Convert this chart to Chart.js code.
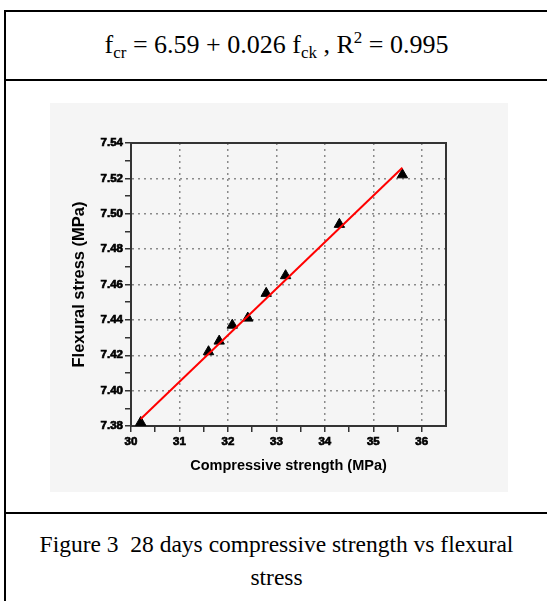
<!DOCTYPE html>
<html><head><meta charset="utf-8">
<script src="https://cdn.jsdelivr.net/npm/chart.js@4.4.0/dist/chart.umd.min.js"></script>
<style>
html,body{margin:0;padding:0;background:#fff;width:547px;height:601px;overflow:hidden;}
body{position:relative;}
.hl{position:absolute;left:4px;width:560px;height:2px;background:#000;}
.vl{position:absolute;left:4px;top:10px;width:2px;height:600px;background:#000;}
.txt{position:absolute;left:6px;width:541px;font-family:"Liberation Serif","Times New Roman",serif;color:#000;text-align:center;white-space:nowrap;}
#eq{top:29px;font-size:26px;line-height:32px;}
#eq .sb{font-size:17px;position:relative;top:5px;}
#eq .sp{font-size:17px;position:relative;top:-10px;}
#cap{top:528px;font-size:23.5px;line-height:33px;}
#wrap{position:absolute;left:50px;top:103px;width:458px;height:389px;background:#f5f5f5;}
</style></head>
<body>
<div class="hl" style="top:10px"></div>
<div class="hl" style="top:79px"></div>
<div class="hl" style="top:512px"></div>
<div class="vl"></div>
<div id="eq" class="txt">f<span class="sb">cr</span> = 6.59 + 0.026 f<span class="sb">ck</span> , R<span class="sp">2</span> = 0.995</div>
<div id="wrap"><canvas id="c" width="458" height="389"></canvas></div>
<div id="cap" class="txt">Figure 3&nbsp; 28 days compressive strength vs flexural<br>stress</div>
<script>
// Data
const compressive = [30.2, 31.6, 31.82, 32.09, 32.41, 32.79, 33.19, 34.3, 35.6];
const flexural    = [7.382, 7.422, 7.428, 7.437, 7.441, 7.455, 7.465, 7.494, 7.522];
const fitX = [30.2, 35.6];
const fitY = [7.384, 7.526];
const xMajorTicks = [30, 31, 32, 33, 34, 35, 36];
const xMinorTicks = [30.5, 31.5, 32.5, 33.5, 34.5, 35.5];
const yMajorTicks = [7.38, 7.40, 7.42, 7.44, 7.46, 7.48, 7.50, 7.52, 7.54];
const yMinorTicks = [7.39, 7.41, 7.43, 7.45, 7.47, 7.49, 7.51, 7.53];
const xTitle = 'Compressive strength (MPa)';
const yTitle = 'Flexural stress (MPa)';

const isIn = (arr, v) => arr.some(a => Math.abs(a - v) < 1e-6);
const buildTicks = (maj, min) => [...maj, ...min].sort((a, b) => a - b).map(v => ({value: v}));

Chart.defaults.font.family = '"Liberation Sans", Arial, sans-serif';
Chart.defaults.font.weight = 'bold';
Chart.defaults.font.size = 12;
Chart.defaults.color = '#000';

const frame = {color: '#333', width: 2};
const gridColor = (maj) => ctx => (ctx.tick && isIn(maj, ctx.tick.value)) ? '#8a8a8a' : 'rgba(0,0,0,0)';
const tickOpts = {font: {size: 11.5, weight: 'bold'}, color: '#000', autoSkip: false,
  textStrokeColor: '#000', textStrokeWidth: 0.7};

new Chart(document.getElementById('c'), {
  type: 'scatter',
  data: {
    datasets: [
      {
        type: 'line',
        data: fitX.map((x, i) => ({x: x, y: fitY[i]})),
        borderColor: '#ff0000', borderWidth: 2, pointRadius: 0, fill: false, order: 0
      },
      {
        data: compressive.map((x, i) => ({x: x, y: flexural[i]})),
        pointStyle: 'triangle', pointRadius: 6, pointHoverRadius: 6,
        backgroundColor: '#000', borderColor: '#000', borderWidth: 1, order: 1
      }
    ]
  },
  options: {
    responsive: false, animation: false, devicePixelRatio: 1,
    layout: {padding: {top: 40, right: 62, bottom: 0, left: 0}},
    plugins: {legend: {display: false}, tooltip: {enabled: false}},
    scales: {
      x: {
        type: 'linear', position: 'bottom', min: 30, max: 36.5,
        afterBuildTicks: s => { s.ticks = buildTicks(xMajorTicks, xMinorTicks); },
        afterFit: s => { s.height = 66; },
        ticks: Object.assign({padding: 3, maxRotation: 0,
          callback: v => isIn(xMajorTicks, v) ? String(Math.round(v)) : ''}, tickOpts),
        grid: {color: gridColor(xMajorTicks), lineWidth: 1.5,
          tickColor: '#333', tickLength: 6, tickWidth: 1.5, tickBorderDash: []},
        border: Object.assign({dash: [2, 4]}, frame),
        title: {display: true, text: xTitle, color: '#000',
          font: {size: 14.5, weight: 'bold'},
          padding: {top: 0, bottom: 17}}
      },
      y: {
        type: 'linear', position: 'left', min: 7.38, max: 7.54,
        afterBuildTicks: s => { s.ticks = buildTicks(yMajorTicks, yMinorTicks); },
        afterFit: s => { s.width = 81; },
        ticks: Object.assign({padding: 2,
          callback: v => isIn(yMajorTicks, v) ? v.toFixed(2) : ''}, tickOpts),
        grid: {color: gridColor(yMajorTicks), lineWidth: 1.5,
          tickColor: '#333', tickLength: 6, tickWidth: 1.5, tickBorderDash: []},
        border: Object.assign({dash: [2, 4]}, frame),
        title: {display: true, text: yTitle, color: '#000',
          font: {size: 16.5, weight: 'bold'},
          padding: {top: 20, bottom: 0}}
      },
      x2: {
        type: 'linear', position: 'top', min: 30, max: 36.5,
        afterFit: s => { s.height = 0; },
        ticks: {display: false}, grid: {drawOnChartArea: false, drawTicks: false},
        border: frame
      },
      y2: {
        type: 'linear', position: 'right', min: 7.38, max: 7.54,
        afterFit: s => { s.width = 0; },
        ticks: {display: false}, grid: {drawOnChartArea: false, drawTicks: false},
        border: frame
      }
    }
  }
});
</script>
</body></html>
